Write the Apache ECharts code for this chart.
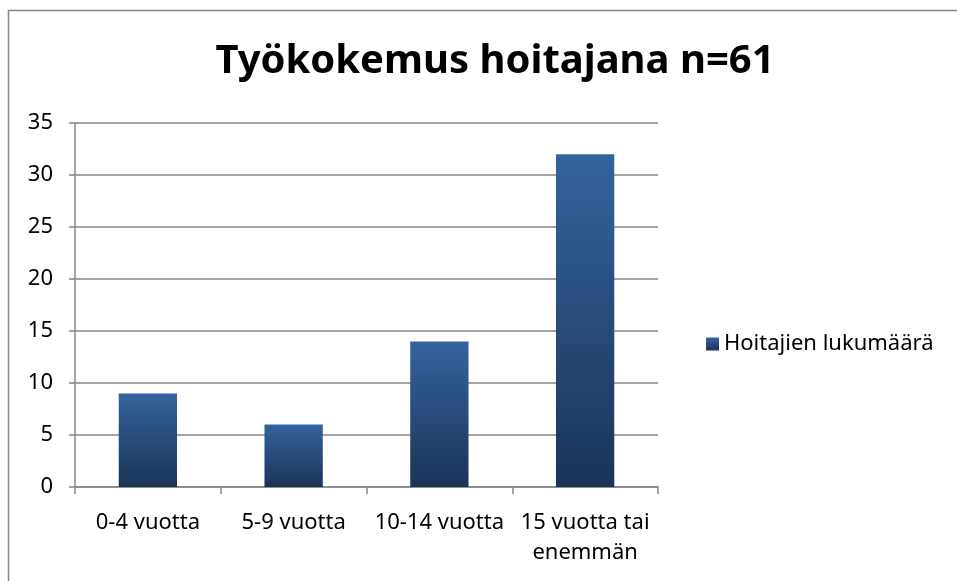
<!doctype html>
<html lang="fi">
  <head>
    <meta charset="UTF-8" />
    <title>Työkokemus hoitajana</title>
    <script src="https://cdn.jsdelivr.net/npm/echarts@6/dist/echarts.min.js"></script>
    <style>
      html, body { margin: 0; padding: 0; background: #fff; }
      #chart { width: 957px; height: 581px; }
    </style>
  </head>
  <body>
    <div id="chart"></div>
    <script>
      // Data
      var categories = ['0-4 vuotta', '5-9 vuotta', '10-14 vuotta', '15 vuotta tai\nenemmän'];
      var nurses = [9, 6, 14, 32];
      var seriesName = 'Hoitajien lukumäärä';
      var titleText = 'Työkokemus hoitajana n=61';

      var font = 'Noto Sans';
      var gray = '#868686';

      // bar fill, light on top, dark at the bottom
      var barFill = new echarts.graphic.LinearGradient(0, 0, 0, 1, [
        { offset: 0, color: '#33649e' },
        { offset: 1, color: '#1b3357' },
      ]);

      var chart = echarts.init(document.getElementById('chart'), null, { renderer: 'canvas' });

      chart.setOption({
        animation: false,
        backgroundColor: '#fff',
        graphic: [
          {
            type: 'rect',
            shape: { x: 8.5, y: 10.5, width: 1000, height: 700 },
            style: { fill: 'none', stroke: gray, lineWidth: 1.5 },
            silent: true,
          },
        ],
        title: {
          text: titleText,
          left: 490,
          top: 37,
          textAlign: 'center',
          textStyle: { fontFamily: font, fontSize: 40, fontWeight: 'bold', color: '#000' },
        },
        legend: {
          orient: 'vertical',
          left: 701,
          top: 328,
          itemWidth: 13,
          itemHeight: 13,
          itemGap: 8,
          icon: 'rect',
          textStyle: { fontFamily: font, fontSize: 22, color: '#000' },
          data: [seriesName],
        },
        grid: { left: 75, right: 299, top: 123, bottom: 94, containLabel: false },
        xAxis: {
          type: 'category',
          data: categories,
          axisLine: { lineStyle: { color: gray, width: 1.5 } },
          axisTick: { show: true, length: 7, lineStyle: { color: gray, width: 1.5 } },
          axisLabel: {
            fontFamily: font,
            fontSize: 22,
            color: '#000',
            margin: 21,
            lineHeight: 30,
            interval: 0,
          },
        },
        yAxis: {
          type: 'value',
          min: 0,
          max: 35,
          interval: 5,
          axisLine: { show: true, lineStyle: { color: gray, width: 1.5 } },
          axisTick: { show: true, length: 6, lineStyle: { color: gray, width: 1.5 } },
          splitLine: { lineStyle: { color: gray, width: 1.5 } },
          axisLabel: { fontFamily: font, fontSize: 22, color: '#000', margin: 22 },
        },
        series: [
          {
            name: seriesName,
            type: 'bar',
            data: nurses,
            barWidth: '40%',
            itemStyle: { color: barFill },
          },
        ],
      });
    </script>
  </body>
</html>
